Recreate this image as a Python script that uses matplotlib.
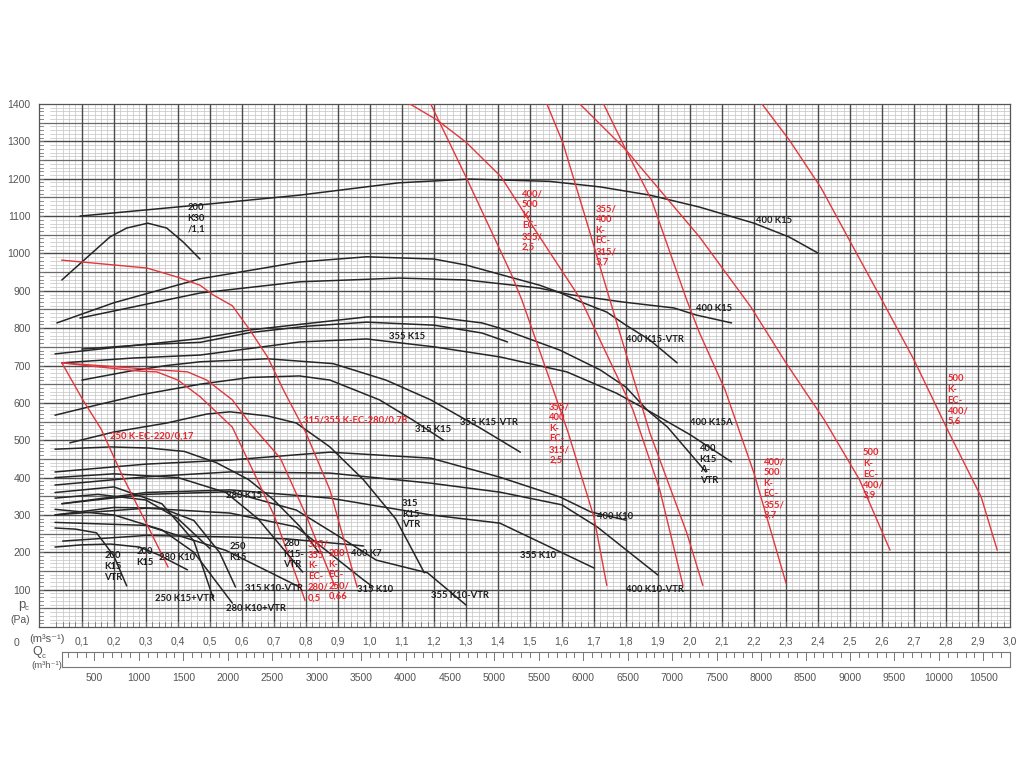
import matplotlib
matplotlib.use('Agg')
import matplotlib.pyplot as plt
import numpy as np

# ---------------- data (flow m3/s, pressure Pa) ----------------
k400_k15_x = [0.094, 0.47, 0.78, 1.09, 1.31, 1.56, 1.72, 1.875, 2.03, 2.2, 2.31, 2.4]
k400_k15_y = [1100, 1130, 1156, 1189, 1199, 1193, 1178, 1156, 1124, 1081, 1044, 1001]

k200_k30_x = [0.0375, 0.1, 0.1875, 0.24, 0.306, 0.365, 0.416, 0.469]
k200_k30_y = [929, 977, 1044, 1068, 1081, 1068, 1031, 985]

k400_k15vtr_x = [0.022, 0.2, 0.469, 0.78, 0.99, 1.2, 1.3, 1.47, 1.53, 1.594, 1.66, 1.74, 1.80, 1.875, 1.96]
k400_k15vtr_y = [814, 868, 932, 977, 991, 985, 969, 929, 915, 895, 870, 843, 808, 768, 707]

k400_k15b_x = [0.094, 0.469, 0.78, 1.09, 1.30, 1.47, 1.53, 1.63, 1.79, 1.95, 2.02, 2.13]
k400_k15b_y = [827, 894, 924, 934, 929, 913, 907, 889, 870, 854, 835, 814]

k400_k15avtr_x = [0.016, 0.2, 0.47, 0.625, 0.78, 0.99, 1.2, 1.35, 1.406, 1.594, 1.72, 1.80, 1.866, 1.93, 2.05]
k400_k15avtr_y = [731, 748, 772, 795, 810, 830, 830, 814, 800, 741, 688, 642, 581, 535, 415]

k400_k15a_x = [0.0375, 0.26, 0.47, 0.78, 0.99, 1.2, 1.406, 1.615, 1.77, 1.866, 2.0, 2.13]
k400_k15a_y = [707, 720, 728, 763, 771, 750, 723, 683, 626, 581, 515, 442]

k355_k15_x = [0.10, 0.3, 0.47, 0.625, 0.8, 0.99, 1.2, 1.35, 1.43]
k355_k15_y = [744, 756, 762, 788, 805, 816, 808, 787, 763]

k355_k15vtr_x = [0.10, 0.25, 0.365, 0.47, 0.68, 0.885, 1.05, 1.19, 1.34, 1.47]
k355_k15vtr_y = [661, 685, 700, 710, 718, 705, 661, 608, 535, 468]

k315_k15_x = [0.016, 0.15, 0.28, 0.47, 0.625, 0.78, 0.875, 1.03, 1.134, 1.23]
k315_k15_y = [567, 595, 621, 650, 668, 672, 661, 608, 554, 500]

k315_k15vtr_x = [0.0625, 0.2, 0.365, 0.49, 0.5625, 0.68, 0.77, 0.875, 0.98, 1.08, 1.13, 1.17]
k315_k15vtr_y = [493, 522, 546, 570, 576, 565, 546, 482, 394, 290, 210, 145]

k400_k10_x = [0.016, 0.3, 0.5625, 0.875, 1.19, 1.406, 1.594, 1.69, 1.80]
k400_k10_y = [415, 436, 447, 468, 452, 401, 348, 308, 286]

k400_k10vtr_x = [0.016, 0.3, 0.5625, 0.875, 1.19, 1.406, 1.60, 1.71, 1.90]
k400_k10vtr_y = [380, 402, 415, 412, 385, 361, 327, 268, 139]

k355_k10_x = [0.0375, 0.3, 0.5625, 0.875, 1.19, 1.406, 1.70]
k355_k10_y = [330, 360, 367, 345, 300, 278, 158]

k355_k10vtr_x = [0.0375, 0.3, 0.5625, 0.77, 0.906, 1.02, 1.18, 1.30]
k355_k10vtr_y = [330, 355, 362, 313, 241, 179, 145, 59]

k315_k10_x = [0.016, 0.3, 0.5625, 0.77, 0.98, 1.01]
k315_k10_y = [300, 318, 305, 268, 126, 107]

k315_k10vtr_x = [0.016, 0.3, 0.55, 0.78]
k315_k10vtr_y = [280, 272, 205, 107]

k400_k7_x = [0.04, 0.3, 0.5625, 0.74, 0.98]
k400_k7_y = [230, 245, 241, 236, 217]

k280_k15_x = [0.016, 0.19, 0.31, 0.42, 0.52, 0.62, 0.70, 0.78, 0.84]
k280_k15_y = [476, 482, 479, 470, 440, 395, 340, 270, 200]

k280_k15vtr_x = [0.016, 0.2, 0.4, 0.55, 0.65, 0.79]
k280_k15vtr_y = [400, 410, 400, 360, 290, 147]

k250_k15_x = [0.016, 0.2, 0.35, 0.45, 0.53, 0.58]
k250_k15_y = [300, 320, 318, 285, 200, 107]

k250_k15vtr_x = [0.016, 0.2, 0.35, 0.45, 0.51]
k250_k15vtr_y = [360, 375, 330, 230, 78]

k280_k10_x = [0.016, 0.15, 0.3, 0.4, 0.5]
k280_k10_y = [345, 355, 340, 290, 210]

k280_k10vtr_x = [0.016, 0.2, 0.35, 0.45, 0.57]
k280_k10vtr_y = [315, 300, 260, 200, 64]

k200_k15_x = [0.016, 0.1, 0.19, 0.28, 0.34, 0.43]
k200_k15_y = [214, 220, 222, 214, 193, 153]

k200_k15vtr_x = [0.016, 0.08, 0.146, 0.2, 0.24]
k200_k15vtr_y = [265, 262, 252, 190, 110]

# red EC curves
ec250_017_x = [0.0375, 0.103, 0.16, 0.228, 0.30, 0.369]
ec250_017_y = [707, 608, 530, 402, 280, 161]

ec315_05_x = [0.0375, 0.156, 0.28, 0.334, 0.40, 0.47, 0.57, 0.70, 0.797]
ec315_05_y = [707, 696, 685, 683, 661, 616, 535, 300, 72]

ec280_066_x = [0.0375, 0.344, 0.43, 0.49, 0.57, 0.625, 0.72, 0.80, 0.89]
ec280_066_y = [707, 688, 683, 661, 608, 545, 452, 300, 110]

ec315_078_x = [0.0375, 0.303, 0.397, 0.469, 0.51, 0.57, 0.625, 0.68, 0.73, 0.80, 0.875, 0.96]
ec315_078_y = [982, 961, 937, 915, 889, 860, 795, 723, 634, 520, 367, 107]

ec355_25_x = [1.19, 1.30, 1.44, 1.475, 1.62, 1.70, 1.74]
ec355_25_y = [1400, 1205, 948, 875, 519, 294, 112]

ec400_25_x = [1.125, 1.21, 1.30, 1.41, 1.51, 1.594, 1.66, 1.822, 1.906, 1.978]
ec400_25_y = [1400, 1357, 1298, 1205, 1071, 961, 875, 581, 366, 112]

ec355_37_x = [1.553, 1.603, 1.672, 1.75, 1.875, 1.99, 2.04]
ec355_37_y = [1400, 1296, 1100, 875, 519, 252, 112]

ec400_37_x = [1.73, 1.80, 1.88, 1.99, 2.03, 2.11, 2.20, 2.30]
ec400_37_y = [1400, 1277, 1143, 875, 787, 634, 412, 118]

ec500_39_x = [1.656, 1.80, 2.03, 2.19, 2.30, 2.42, 2.53, 2.625]
ec500_39_y = [1400, 1277, 1044, 857, 707, 554, 394, 206]

ec500_56_x = [2.225, 2.31, 2.41, 2.51, 2.60, 2.70, 2.81, 2.91, 2.96]
ec500_56_y = [1400, 1304, 1175, 1017, 875, 715, 519, 348, 206]

x_ticks_ms = [0.1, 0.2, 0.3, 0.4, 0.5, 0.6, 0.7, 0.8, 0.9, 1.0, 1.1, 1.2, 1.3, 1.4, 1.5,
              1.6, 1.7, 1.8, 1.9, 2.0, 2.1, 2.2, 2.3, 2.4, 2.5, 2.6, 2.7, 2.8, 2.9, 3.0]
x_labels_ms = ['0,1', '0,2', '0,3', '0,4', '0,5', '0,6', '0,7', '0,8', '0,9', '1,0', '1,1', '1,2',
               '1,3', '1,4', '1,5', '1,6', '1,7', '1,8', '1,9', '2,0', '2,1', '2,2', '2,3', '2,4',
               '2,5', '2,6', '2,7', '2,8', '2,9', '3,0']
x_ticks_mh = [500, 1000, 1500, 2000, 2500, 3000, 3500, 4000, 4500, 5000, 5500, 6000, 6500,
              7000, 7500, 8000, 8500, 9000, 9500, 10000, 10500]
y_ticks = [100, 200, 300, 400, 500, 600, 700, 800, 900, 1000, 1100, 1200, 1300, 1400]

# ---------------- figure ----------------
fig = plt.figure(figsize=(10.24, 7.68), dpi=100)
L, R, T, B = 39, 1010, 104, 627
ax = fig.add_axes([L / 1024, 1 - B / 768, (R - L) / 1024, (B - T) / 768])
ax.set_xlim(-0.034, 3.0)
ax.set_ylim(0, 1400)

# grid
for xv in np.arange(0.02, 3.0, 0.02):
    ax.plot([xv, xv], [0, 1400], color='#c4c4c4', lw=0.5, zorder=1)
for yv in np.arange(10, 1400, 10):
    ax.plot([0, 3.0], [yv, yv], color='#c4c4c4', lw=0.5, zorder=1)
for yv in np.arange(50, 1400, 100):
    ax.plot([-0.034, 3.0], [yv, yv], color='#6a6a6a', lw=0.9, zorder=2)
for yv in np.arange(100, 1400, 100):
    ax.plot([-0.034, 3.0], [yv, yv], color='#4a4a4a', lw=1.0, zorder=2)
for xv in np.arange(0.1, 3.0, 0.1):
    ax.plot([xv, xv], [0, 1400], color='#4a4a4a', lw=1.0, zorder=2)
# left ruler ticks
for yv in np.arange(10, 1400, 10):
    ax.plot([-0.034, -0.022], [yv, yv], color='#777777', lw=0.6, zorder=2)
# bottom ruler ticks
for xv in np.arange(0.02, 3.0, 0.02):
    ax.plot([xv, xv], [0, 14], color='#777777', lw=0.6, zorder=2)

for s in ax.spines.values():
    s.set_color('#555555')
    s.set_linewidth(0.9)

black = [
    (k400_k15_x, k400_k15_y), (k200_k30_x, k200_k30_y), (k400_k15vtr_x, k400_k15vtr_y),
    (k400_k15b_x, k400_k15b_y), (k400_k15avtr_x, k400_k15avtr_y), (k400_k15a_x, k400_k15a_y),
    (k355_k15_x, k355_k15_y), (k355_k15vtr_x, k355_k15vtr_y), (k315_k15_x, k315_k15_y),
    (k315_k15vtr_x, k315_k15vtr_y), (k400_k10_x, k400_k10_y), (k400_k10vtr_x, k400_k10vtr_y),
    (k355_k10_x, k355_k10_y), (k355_k10vtr_x, k355_k10vtr_y), (k315_k10_x, k315_k10_y),
    (k315_k10vtr_x, k315_k10vtr_y), (k400_k7_x, k400_k7_y), (k280_k15_x, k280_k15_y),
    (k280_k15vtr_x, k280_k15vtr_y), (k250_k15_x, k250_k15_y), (k250_k15vtr_x, k250_k15vtr_y),
    (k280_k10_x, k280_k10_y), (k280_k10vtr_x, k280_k10vtr_y), (k200_k15_x, k200_k15_y),
    (k200_k15vtr_x, k200_k15vtr_y),
]
for xs, ys in black:
    ax.plot(xs, ys, color='#262626', lw=1.1, zorder=4, solid_capstyle='round')

red = [
    (ec250_017_x, ec250_017_y), (ec315_05_x, ec315_05_y), (ec280_066_x, ec280_066_y),
    (ec315_078_x, ec315_078_y), (ec355_25_x, ec355_25_y), (ec400_25_x, ec400_25_y),
    (ec355_37_x, ec355_37_y), (ec400_37_x, ec400_37_y), (ec500_39_x, ec500_39_y),
    (ec500_56_x, ec500_56_y),
]
for xs, ys in red:
    ax.plot(xs, ys, color='#e2373d', lw=1.0, zorder=5, clip_on=True)

FONT = 'Lato'
bk = dict(color='#1e1e1e', fontsize=6.8, fontfamily=FONT, fontweight='bold', zorder=6,
          ha='left', va='top', linespacing=1.25)
rd = dict(color='#e8262d', fontsize=6.8, fontfamily=FONT, fontweight='bold', zorder=6,
          ha='left', va='top', linespacing=1.25)

black_labels = [
    (2.205, 1100, '400 K15'), (0.43, 1135, '200\nK30\n/1,1'), (2.02, 865, '400 K15'),
    (1.80, 782, '400 K15-VTR'), (1.06, 790, '355 K15'), (1.28, 560, '355 K15-VTR'),
    (1.14, 541, '315 K15'), (2.0, 560, '400 K15A'), (2.03, 490, '400\nK15\nA-\nVTR'),
    (1.10, 343, '315\nK15\nVTR'), (0.55, 364, '280 K15'), (1.71, 307, '400 K10'),
    (1.47, 203, '355 K10'), (0.94, 209, '400 K7'), (0.73, 236, '280\nK15-\nVTR'),
    (0.56, 228, '250\nK15'), (0.34, 198, '280 K10'), (0.27, 214, '200\nK15'),
    (0.17, 203, '200\nK15\nVTR'), (0.61, 116, '315 K10-VTR'), (0.96, 112, '315 K10'),
    (1.19, 96, '355 K10-VTR'), (1.80, 112, '400 K10-VTR'), (0.33, 88, '250 K15+VTR'),
    (0.55, 62, '280 K10+VTR'),
]
for xt, yt, s in black_labels:
    ax.text(xt, yt, s, **bk)

red_labels = [
    (0.1875, 522, '250 K-EC-220/0,17'), (0.79, 565, '315/355 K-EC-280/0,78'),
    (0.806, 233, '315/\n355\nK-\nEC-\n280/\n0,5'), (0.87, 209, '280\nK-\nEC-\n250/\n0,66'),
    (1.475, 1172, '400/\n500\nK-\nEC-\n355/\n2,5'), (1.705, 1132, '355/\n400\nK-\nEC-\n315/\n3,7'),
    (1.56, 602, '355/\n400\nK-\nEC-\n315/\n2,5'), (2.23, 455, '400/\n500\nK-\nEC-\n355/\n3,7'),
    (2.54, 479, '500\nK-\nEC-\n400/\n3,9'), (2.805, 677, '500\nK-\nEC-\n400/\n5,6'),
]
for xt, yt, s in red_labels:
    ax.text(xt, yt, s, **rd)

# axis labels
tk = dict(fontfamily='Liberation Sans', fontsize=7.5, color='#555555')
ax.set_yticks(y_ticks)
ax.set_yticklabels([str(v) for v in y_ticks], **tk)
ax.set_xticks(x_ticks_ms)
ax.set_xticklabels(x_labels_ms, **tk)
ax.tick_params(axis='both', length=0)
ax.tick_params(axis='y', pad=6)
ax.tick_params(axis='x', pad=7)

sm = dict(fontfamily=['Liberation Sans', 'DejaVu Sans'], color='#555555', ha='center', va='center')
fig.text(17 / 1024, 1 - 643 / 768, '0', ha='center', va='center', **tk)
fig.text(47 / 1024, 1 - 639 / 768, '(m³s⁻¹)', fontsize=8, **sm)
fig.text(22 / 1024, 1 - 605 / 768, 'p', fontsize=9.5, **sm)
fig.text(27 / 1024, 1 - 608 / 768, 'c', fontsize=5.5, **sm)
fig.text(20 / 1024, 1 - 620 / 768, '(Pa)', ha='center', va='center', **tk)
fig.text(37 / 1024, 1 - 652 / 768, 'Q', fontsize=9, **sm)
fig.text(43.5 / 1024, 1 - 656 / 768, 'c', fontsize=5.5, **sm)
fig.text(47 / 1024, 1 - 666 / 768, '(m³h⁻¹)', fontsize=6.8, **sm)

# m3/h ruler
ax2 = fig.add_axes([(L + 23) / 1024, 1 - 667 / 768, (R - L - 23) / 1024, 15 / 768])
ax2.set_xlim(0.0375 * 3600, 3.0 * 3600)
ax2.set_ylim(0, 1)
for mv in range(200, 10800, 100):
    h = 0.55 if mv % 500 == 0 else 0.3
    ax2.plot([mv, mv], [1 - h, 1], color='#777777', lw=0.7)
ax2.set_yticks([])
ax2.set_xticks(x_ticks_mh)
ax2.set_xticklabels([str(v) for v in x_ticks_mh], **tk)
ax2.tick_params(axis='x', length=0, pad=4)
for s in ax2.spines.values():
    s.set_color('#777777')
    s.set_linewidth(0.8)

fig.savefig('out.png', dpi=100)
